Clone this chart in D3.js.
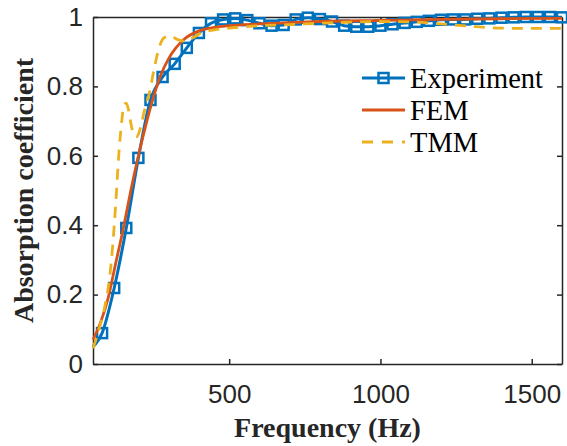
<!DOCTYPE html>
<html>
<head>
<meta http-equiv="Content-Type" content="text/html; charset=utf-8">
<script src="https://cdnjs.cloudflare.com/ajax/libs/d3/7.8.5/d3.min.js"></script>
<style>
  body { margin: 0; background: #ffffff; }
  .tick-label { font-family: "Liberation Sans", Arial, sans-serif; font-size: 26px; fill: #262626; }
  .axis-title { font-family: "Liberation Serif", "Times New Roman", serif; font-size: 28px; font-weight: bold; fill: #262626; }
  .legend-text { font-family: "Liberation Serif", "Times New Roman", serif; font-size: 28.5px; fill: #000000; }
</style>
</head>
<body>
<div class="chart"></div>

<script type="text/javascript">

    //-------------------------------------------- DATA

    // measured absorption (markers every 40 Hz, first point only for the line)
    var expFreq = [50, 80, 120, 160, 200, 240, 280, 320, 360, 400, 440, 480, 520, 560, 600,
                   640, 680, 720, 760, 800, 840, 880, 920, 960, 1000, 1040, 1080, 1120, 1160,
                   1200, 1240, 1280, 1320, 1360, 1400, 1440, 1480, 1520, 1560, 1600];
    var expAbs  = [0.05, 0.089, 0.219, 0.392, 0.594, 0.761, 0.827, 0.865, 0.911, 0.954, 0.982, 0.993, 0.996, 0.991, 0.982,
                   0.975, 0.977, 0.993, 0.998, 0.994, 0.987, 0.975, 0.972, 0.972, 0.975, 0.979, 0.983, 0.986, 0.989,
                   0.992, 0.993, 0.993, 0.995, 0.996, 0.998, 0.999, 1.0, 1.0, 1.0, 0.999];

    var femFreq = [50, 75, 100, 125, 150, 175, 200, 225, 250, 275, 300, 350, 400, 450, 500, 600, 700, 800, 1000, 1200, 1400, 1600];
    var femAbs  = [0.07, 0.12, 0.19, 0.29, 0.39, 0.50, 0.60, 0.69, 0.77, 0.835, 0.88, 0.935, 0.96, 0.97, 0.975, 0.98, 0.984, 0.987, 0.99, 0.993, 0.995, 0.996];

    var tmmFreq = [50, 70, 90, 105, 115, 125, 135, 145, 152, 160, 168, 176, 185, 195, 205, 220, 236, 252, 268, 285, 305, 330, 355, 380, 410,
                   450, 500, 600, 700, 800, 900, 1000, 1100, 1200, 1300, 1400, 1500, 1600];
    var tmmAbs  = [0.045, 0.10, 0.17, 0.25, 0.34, 0.46, 0.60, 0.70, 0.745, 0.752, 0.73, 0.69, 0.66, 0.655, 0.675, 0.73, 0.78, 0.85, 0.91, 0.94, 0.945, 0.935, 0.93, 0.94, 0.955,
                   0.963, 0.968, 0.975, 0.978, 0.982, 0.985, 0.987, 0.986, 0.98, 0.973, 0.968, 0.967, 0.967];

    var xTicks = [500, 1000, 1500];
    var yTicks = [0, 0.2, 0.4, 0.6, 0.8, 1];

    var seriesNames = ["Experiment", "FEM", "TMM"];

    //-------------------------------------------- SVG definition

    var width = 567;
    var height = 446;
    var mLeft = 93, mRight = 562, mTop = 17, mBottom = 364;

    var svg = d3.select("div.chart")
        .append("svg")
        .attr("width", width)
        .attr("height", height);

    var x = d3.scaleLinear().domain([50, 1600]).range([mLeft, mRight]);
    var y = d3.scaleLinear().domain([0, 1]).range([mBottom, mTop]);

    var axisColor = "#262626";

    // ------------------------------------------- AXES (box with inward ticks)

    var gx = svg.append("g")
        .attr("transform", "translate(0," + mBottom + ")")
        .call(d3.axisBottom(x).tickValues(xTicks).tickSizeInner(-5).tickSizeOuter(0).tickPadding(21).tickFormat(d3.format("d")));
    var gxTop = svg.append("g")
        .attr("transform", "translate(0," + mTop + ")")
        .call(d3.axisTop(x).tickValues(xTicks).tickSizeInner(-5).tickSizeOuter(0).tickFormat(""));
    var gy = svg.append("g")
        .attr("transform", "translate(" + mLeft + ",0)")
        .call(d3.axisLeft(y).tickValues(yTicks).tickSizeInner(-5).tickSizeOuter(0).tickPadding(10).tickFormat(d3.format("")));
    var gyRight = svg.append("g")
        .attr("transform", "translate(" + mRight + ",0)")
        .call(d3.axisRight(y).tickValues(yTicks).tickSizeInner(-5).tickSizeOuter(0).tickFormat(""));

    [gx, gxTop, gy, gyRight].forEach(function(g) {
        g.attr("font-family", null).attr("font-size", null);
        g.select(".domain").attr("stroke", axisColor).attr("stroke-width", 1.5);
        g.selectAll(".tick line").attr("stroke", axisColor).attr("stroke-width", 1.5);
        g.selectAll(".tick text").attr("class", "tick-label").attr("fill", null);
    });

    // axis titles
    svg.append("text")
        .attr("class", "axis-title")
        .attr("x", (mLeft + mRight) / 2)
        .attr("y", 437)
        .attr("text-anchor", "middle")
        .text("Frequency (Hz)");

    svg.append("text")
        .attr("class", "axis-title")
        .attr("transform", "translate(33," + ((mTop + mBottom) / 2) + ") rotate(-90)")
        .attr("text-anchor", "middle")
        .text("Absorption coefficient");

    // ------------------------------------------- CURVES

    var colors = ["#0072BD", "#D95319", "#EDB120"];

    var line = d3.line()
        .x(function(d) { return x(d[0]); })
        .y(function(d) { return y(d[1]); })
        .curve(d3.curveMonotoneX);

    var expData = d3.zip(expFreq, expAbs);
    var femData = d3.zip(femFreq, femAbs);
    var tmmData = d3.zip(tmmFreq, tmmAbs);

    var plot = svg.append("g");

    plot.append("path")
        .datum(expData)
        .attr("d", line)
        .attr("fill", "none")
        .attr("stroke", colors[0])
        .attr("stroke-width", 3);

    plot.selectAll("rect.marker")
        .data(expData.slice(1))
        .enter()
        .append("rect")
        .attr("class", "marker")
        .attr("x", function(d) { return x(d[0]) - 5; })
        .attr("y", function(d) { return y(d[1]) - 5; })
        .attr("width", 10)
        .attr("height", 10)
        .attr("fill", "none")
        .attr("stroke", colors[0])
        .attr("stroke-width", 2.5);

    plot.append("path")
        .datum(femData)
        .attr("d", line)
        .attr("fill", "none")
        .attr("stroke", colors[1])
        .attr("stroke-width", 2.8);

    plot.append("path")
        .datum(tmmData)
        .attr("d", line)
        .attr("fill", "none")
        .attr("stroke", colors[2])
        .attr("stroke-width", 2.8)
        .attr("stroke-dasharray", "11,8");

    // ------------------------------------------- LEGEND

    var legend = svg.append("g").attr("transform", "translate(362,78)");

    var items = legend.selectAll("g")
        .data(seriesNames)
        .enter()
        .append("g")
        .attr("transform", function(d, i) { return "translate(0," + (i * 32) + ")"; });

    items.append("line")
        .attr("x1", 0).attr("x2", 43)
        .attr("y1", 0).attr("y2", 0)
        .attr("stroke", function(d, i) { return colors[i]; })
        .attr("stroke-width", 2.8)
        .attr("stroke-dasharray", function(d, i) { return i == 2 ? "11,9" : null; });

    items.filter(function(d, i) { return i == 0; })
        .append("rect")
        .attr("x", 16.5).attr("y", -5)
        .attr("width", 10).attr("height", 10)
        .attr("fill", "none")
        .attr("stroke", colors[0])
        .attr("stroke-width", 2.5);

    items.append("text")
        .attr("class", "legend-text")
        .attr("x", 48)
        .attr("y", 9.5)
        .text(function(d) { return d; });

</script>
</body>
</html>
